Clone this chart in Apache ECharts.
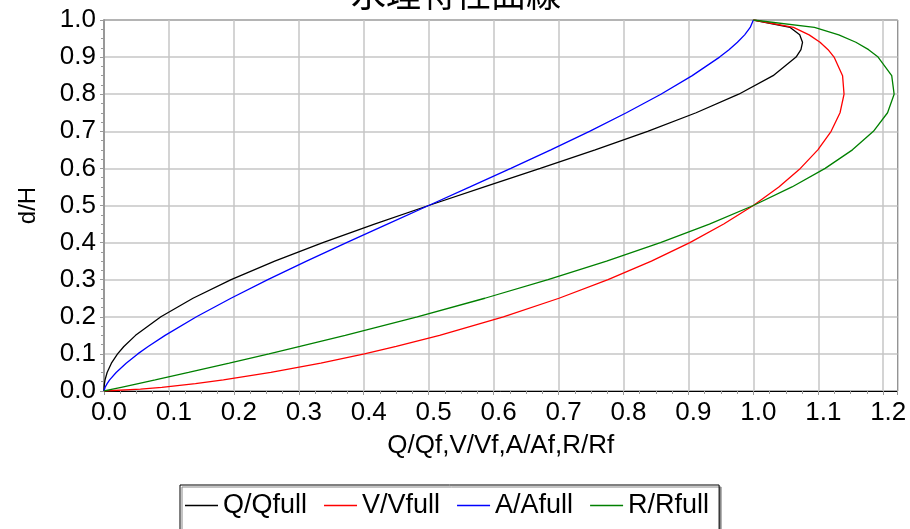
<!DOCTYPE html>
<html>
<head>
<meta charset="utf-8">
<script src="https://cdn.jsdelivr.net/npm/echarts@6/dist/echarts.min.js"></script>
<style>
html,body{margin:0;padding:0;background:#fff;}
#chart{width:910px;height:529px;}
</style>
</head>
<body>
<div id="chart"></div>
<script>
// d/H (relative depth) values
const dH = [0, 0.005, 0.01, 0.02, 0.03, 0.05, 0.075, 0.1, 0.12, 0.15, 0.2, 0.25, 0.3, 0.35, 0.4, 0.45, 0.5, 0.55, 0.6, 0.65, 0.7, 0.75, 0.8, 0.85, 0.9, 0.92, 0.94, 0.96, 0.98, 1.0];
// Q/Qfull
const qRatio = [0, 0.00003, 0.00015, 0.00067, 0.0016, 0.0048, 0.0114, 0.0209, 0.0306, 0.0486, 0.0876, 0.1370, 0.1958, 0.2629, 0.3370, 0.4165, 0.5, 0.5857, 0.6718, 0.7564, 0.8372, 0.9119, 0.9775, 1.0304, 1.0658, 1.0733, 1.0757, 1.0714, 1.0567, 1.0];
// V/Vfull
const vRatio = [0, 0.0561, 0.0890, 0.1408, 0.1839, 0.2569, 0.3339, 0.4011, 0.4500, 0.5168, 0.6151, 0.7007, 0.7762, 0.8430, 0.9022, 0.9544, 1.0, 1.0393, 1.0724, 1.0993, 1.1198, 1.1335, 1.1397, 1.1374, 1.1243, 1.1151, 1.1027, 1.0859, 1.0618, 1.0];
// A/Afull
const aRatio = [0, 0.0006, 0.0017, 0.0048, 0.0087, 0.0187, 0.0341, 0.0520, 0.0680, 0.0941, 0.1424, 0.1955, 0.2523, 0.3119, 0.3735, 0.4364, 0.5, 0.5636, 0.6265, 0.6881, 0.7477, 0.8045, 0.8576, 0.9059, 0.9480, 0.9625, 0.9755, 0.9866, 0.9952, 1.0];
// R/Rfull
const rRatio = [0, 0.0133, 0.0265, 0.0528, 0.0789, 0.1302, 0.1929, 0.2541, 0.3018, 0.3715, 0.4824, 0.5865, 0.6838, 0.7740, 0.8569, 0.9323, 1.0, 1.0595, 1.1106, 1.1526, 1.1849, 1.2067, 1.2168, 1.2131, 1.1921, 1.1775, 1.1579, 1.1316, 1.0941, 1.0];

const seriesNames = ['Q/Qfull', 'V/Vfull', 'A/Afull', 'R/Rfull'];
const seriesValues = [qRatio, vRatio, aRatio, rRatio];
const seriesColors = ['#000000', '#ff0000', '#0000ff', '#008000'];

const titleText = '水理特性曲線';
const xName = 'Q/Qf,V/Vf,A/Af,R/Rf';
const yName = 'd/H';

const FONT = '"Liberation Sans", Arial, sans-serif';

const chart = echarts.init(document.getElementById('chart'), null, {renderer: 'canvas'});

const option = {
  animation: false,
  backgroundColor: '#fff',
  title: {
    text: titleText,
    left: 346,
    top: -29,
    textStyle: {fontFamily: '"Noto Sans CJK JP", sans-serif', fontSize: 35, fontWeight: 'normal', color: '#000'}
  },
  legend: {
    data: seriesNames,
    left: 180,
    top: 485,
    orient: 'horizontal',
    icon: 'rect',
    padding: [7, 10, 20, 5],
    itemGap: 17,
    itemWidth: 33,
    itemHeight: 1.4,
    borderColor: '#000',
    borderWidth: 1,
    backgroundColor: '#fff',
    shadowColor: '#888',
    shadowOffsetX: 2,
    shadowOffsetY: 2,
    shadowBlur: 0,
    textStyle: {fontFamily: FONT, fontSize: 27, color: '#000'}
  },
  grid: {
    left: 104,
    right: 12.5,
    top: 20,
    bottom: 138,
    show: true,
    borderColor: '#000',
    borderWidth: 1,
    backgroundColor: 'transparent'
  },
  xAxis: {
    type: 'value',
    min: 0,
    max: 1.222,
    interval: 0.1,
    name: xName,
    nameLocation: 'middle',
    nameGap: 42,
    nameTextStyle: {fontFamily: FONT, fontSize: 26, color: '#000'},
    axisLine: {show: true, lineStyle: {color: '#000', width: 1}},
    axisTick: {show: true, length: 4, lineStyle: {color: '#999'}},
    minorTick: {show: true, splitNumber: 4, length: 3, lineStyle: {color: '#999'}},
    splitLine: {show: true, lineStyle: {color: '#c6c6c6', width: 1.5}},
    axisLabel: {
      fontFamily: FONT, fontSize: 26, color: '#000', margin: 9,
      showMaxLabel: false,
      padding: [0, 0, 0, 10],
      formatter: v => v.toFixed(1)
    }
  },
  yAxis: {
    type: 'value',
    min: 0,
    max: 1,
    interval: 0.1,
    name: yName,
    nameLocation: 'middle',
    nameGap: 64,
    nameTextStyle: {fontFamily: FONT, fontSize: 24, color: '#000'},
    axisLine: {show: true, lineStyle: {color: '#999', width: 2}},
    axisTick: {show: true, length: 4, lineStyle: {color: '#999'}},
    minorTick: {show: true, splitNumber: 4, length: 3, lineStyle: {color: '#999'}},
    splitLine: {show: true, lineStyle: {color: '#c6c6c6', width: 1.5}},
    axisLabel: {
      fontFamily: FONT, fontSize: 26, color: '#000', margin: 8,
      formatter: v => v.toFixed(1)
    }
  },
  series: seriesNames.map((name, i) => ({
    name: name,
    type: 'line',
    data: seriesValues[i].map((v, j) => [v, dH[j]]),
    showSymbol: false,
    symbol: 'none',
    smooth: false,
    lineStyle: {color: seriesColors[i], width: 1.3},
    itemStyle: {color: seriesColors[i]}
  }))
};

chart.setOption(option);
</script>
</body>
</html>
